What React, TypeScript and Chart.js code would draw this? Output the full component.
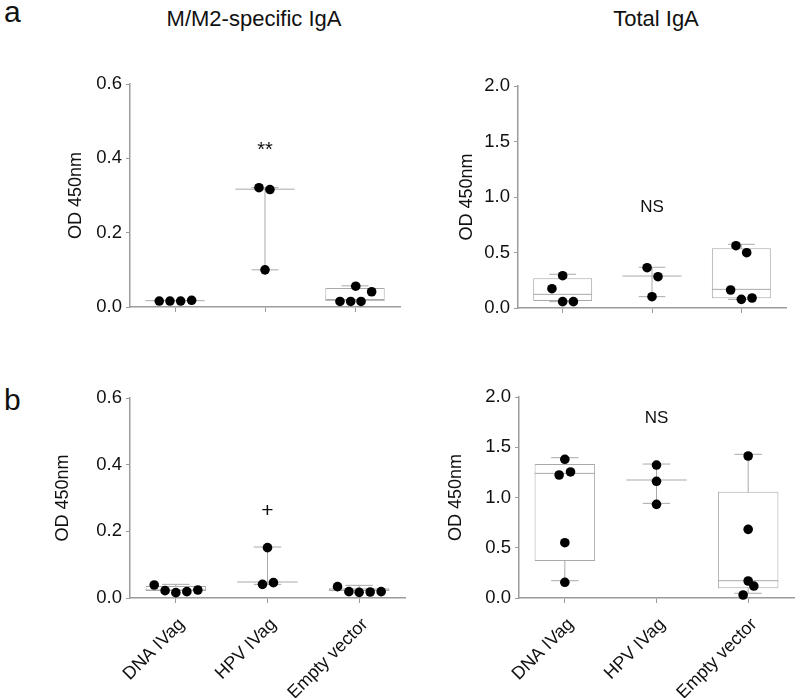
import React, { useEffect, useRef } from 'react';
import { Chart, registerables } from 'chart.js';

Chart.register(...registerables);

const FONT = '"Liberation Sans", Arial, Helvetica, sans-serif';

// ---------- data ----------
const categories = ['DNA IVag', 'HPV IVag', 'Empty vector'];

// Panel a — M/M2-specific IgA
const aSpecValues = [[0.016, 0.016, 0.016, 0.018], [0.321, 0.316, 0.1], [0.015, 0.015, 0.015, 0.056, 0.041]];
const aSpecJitter = [[-0.175, -0.056, 0.063, 0.185], [-0.067, 0.055, 0], [-0.167, -0.048, 0.067, 0.008, 0.185]];
const aSpecMedian = [0.017, 0.317, 0.018];
const aSpecQ1 = [null, null, 0.019];
const aSpecQ3 = [null, null, 0.051];
const aSpecLow = [null, 0.1, null];
const aSpecHigh = [null, 0.321, 0.057];
const aSpecMark = { text: '**', x: 2, y: 0.42 };

// Panel a — Total IgA
const aTotValues = [[0.291, 0.174, 0.057, 0.057], [0.363, 0.282, 0.102], [0.561, 0.498, 0.162, 0.078, 0.09]];
const aTotJitter = [[0, -0.12, 0, 0.12], [-0.055, 0.067, 0], [-0.06, 0.06, -0.12, 0, 0.12]];
const aTotMedian = [0.123, 0.288, 0.168];
const aTotQ1 = [0.063, null, 0.087];
const aTotQ3 = [0.268, null, 0.538];
const aTotLow = [0.057, 0.102, 0.078];
const aTotHigh = [0.304, 0.367, 0.574];
const aTotMark = { text: 'NS', x: 2, y: 0.91 };

// Panel b — M/M2-specific IgA
const bSpecValues = [[0.039, 0.022, 0.016, 0.019, 0.024], [0.041, 0.046, 0.151], [0.034, 0.019, 0.017, 0.018, 0.019]];
const bSpecJitter = [[-0.236, -0.117, 0, 0.12, 0.24], [-0.055, 0.065, 0], [-0.236, -0.112, 0, 0.12, 0.24]];
const bSpecMedian = [0.024, 0.048, 0.024];
const bSpecQ1 = [0.021, null, 0.021];
const bSpecQ3 = [0.036, null, 0.029];
const bSpecLow = [null, 0.041, null];
const bSpecHigh = [0.041, 0.153, 0.038];
const bSpecMark = { text: '+', x: 2, y: 0.26 };

// Panel b — Total IgA
const bTotValues = [[1.38, 1.224, 1.254, 0.55, 0.156], [1.323, 1.161, 0.932], [1.413, 0.683, 0.169, 0.119, 0.03]];
const bTotJitter = [[0, -0.062, 0.062, 0, 0], [0, 0, 0], [0, 0, 0, 0.062, -0.055]];
const bTotMedian = [1.24, 1.174, 0.172];
const bTotQ1 = [0.368, null, 0.096];
const bTotQ3 = [1.333, null, 1.058];
const bTotLow = [0.172, 0.942, 0.047];
const bTotHigh = [1.396, 1.333, 1.43];
const bTotMark = { text: 'NS', x: 2, y: 1.79 };

const specTicks = [0, 0.2, 0.4, 0.6];
const totTicks = [0, 0.5, 1.0, 1.5, 2.0];

// ---------- styling / layout ----------
const LINE_COLOR = '#a9a9a9';
const AXIS_COLOR = '#9c9c9c';
const HALF_BOX = 0.33;
const HALF_CAP = 0.15;

type Num = number | null;
interface PanelData {
  values: number[][];
  jitter: number[][];
  median: number[];
  q1: Num[];
  q3: Num[];
  lo: Num[];
  hi: Num[];
  ticks: number[];
  mark: { text: string; x: number; y: number };
  markSize: number;
  showLabels: boolean;
  frame: { cx: number; cy: number; w: number; h: number; l: number; r: number; t: number; b: number };
}

const panels: PanelData[] = [
  {
    values: aSpecValues, jitter: aSpecJitter, median: aSpecMedian, q1: aSpecQ1, q3: aSpecQ3, lo: aSpecLow, hi: aSpecHigh,
    ticks: specTicks, mark: aSpecMark, markSize: 20, showLabels: false,
    frame: { cx: 61, cy: 50, w: 359, h: 290, l: 130, r: 400, t: 84, b: 307 },
  },
  {
    values: aTotValues, jitter: aTotJitter, median: aTotMedian, q1: aTotQ1, q3: aTotQ3, lo: aTotLow, hi: aTotHigh,
    ticks: totTicks, mark: aTotMark, markSize: 17, showLabels: false,
    frame: { cx: 452, cy: 50, w: 348, h: 290, l: 518, r: 786, t: 86, b: 308 },
  },
  {
    values: bSpecValues, jitter: bSpecJitter, median: bSpecMedian, q1: bSpecQ1, q3: bSpecQ3, lo: bSpecLow, hi: bSpecHigh,
    ticks: specTicks, mark: bSpecMark, markSize: 21, showLabels: true,
    frame: { cx: 48, cy: 360, w: 372, h: 338, l: 130, r: 405, t: 398, b: 598 },
  },
  {
    values: bTotValues, jitter: bTotJitter, median: bTotMedian, q1: bTotQ1, q3: bTotQ3, lo: bTotLow, hi: bTotHigh,
    ticks: totTicks, mark: bTotMark, markSize: 17, showLabels: true,
    frame: { cx: 441, cy: 360, w: 359, h: 338, l: 519, r: 794, t: 397, b: 598 },
  },
];

function buildDatasets(p: PanelData): any[] {
  const points: any[] = [];
  const whiskers: any[] = [];
  const medians: any[] = [];
  const boxes: any[] = [];
  categories.forEach((_, i) => {
    const x = i + 1;
    p.values[i].forEach((v, j) => points.push({ x: x + p.jitter[i][j], y: v }));
    const top = p.hi[i] ?? p.q3[i] ?? p.median[i];
    const bottom = p.lo[i] ?? p.q1[i] ?? p.median[i];
    if (top !== bottom) whiskers.push({ x, y: bottom }, { x, y: top }, { x, y: null });
    if (p.hi[i] != null) whiskers.push({ x: x - HALF_CAP, y: p.hi[i] }, { x: x + HALF_CAP, y: p.hi[i] }, { x, y: null });
    if (p.lo[i] != null) whiskers.push({ x: x - HALF_CAP, y: p.lo[i] }, { x: x + HALF_CAP, y: p.lo[i] }, { x, y: null });
    medians.push({ x: x - HALF_BOX, y: p.median[i] }, { x: x + HALF_BOX, y: p.median[i] }, { x, y: null });
    if (p.q1[i] != null && p.q3[i] != null) boxes.push({ x, y: [p.q1[i], p.q3[i]] });
  });
  return [
    {
      type: 'scatter', data: points, order: 0, clip: false,
      pointRadius: 4.8, pointHoverRadius: 4.8, pointBackgroundColor: '#000', pointBorderColor: '#000', pointBorderWidth: 0,
    },
    {
      type: 'line', data: medians, order: 1, borderColor: LINE_COLOR, borderWidth: 1, pointRadius: 0, spanGaps: false, fill: false,
    },
    {
      type: 'bar', data: boxes, order: 2, backgroundColor: '#ffffff', borderColor: LINE_COLOR, borderWidth: 1,
      borderSkipped: false, categoryPercentage: HALF_BOX * 2, barPercentage: 1,
    },
    {
      type: 'line', data: whiskers, order: 3, borderColor: LINE_COLOR, borderWidth: 1, pointRadius: 0, spanGaps: false, fill: false,
    },
  ];
}

const markPlugin = {
  id: 'panelMark',
  afterDatasetsDraw(chart: any, _args: any, opts: any) {
    const { ctx, scales } = chart;
    if (!opts || !opts.mark) return;
    ctx.save();
    ctx.font = `${opts.size}px ${FONT}`;
    ctx.fillStyle = '#111';
    ctx.textAlign = 'center';
    ctx.textBaseline = 'middle';
    ctx.fillText(opts.mark.text, scales.x.getPixelForValue(opts.mark.x), scales.y.getPixelForValue(opts.mark.y));
    ctx.restore();
  },
};

function Panel({ p }: { p: PanelData }) {
  const ref = useRef<HTMLCanvasElement>(null);
  useEffect(() => {
    const f = p.frame;
    const yWidth = f.l - f.cx;
    const xHeight = f.cy + f.h - f.b;
    const chart = new Chart(ref.current as HTMLCanvasElement, {
      type: 'scatter',
      data: { datasets: buildDatasets(p) },
      plugins: [markPlugin],
      options: {
        responsive: false,
        animation: false,
        events: [],
        layout: { padding: { left: 0, top: f.t - f.cy, right: f.cx + f.w - f.r, bottom: 0 } },
        plugins: {
          legend: { display: false },
          tooltip: { enabled: false },
          panelMark: { mark: p.mark, size: p.markSize },
        } as any,
        scales: {
          x: {
            type: 'linear',
            min: 0.5,
            max: 3.5,
            offset: false,
            afterBuildTicks: (scale: any) => {
              scale.ticks = categories.map((_, i) => ({ value: i + 1 }));
            },
            afterFit: (scale: any) => {
              scale.height = xHeight;
            },
            grid: { offset: false, drawOnChartArea: false, drawTicks: true, tickLength: 5, color: AXIS_COLOR, lineWidth: 1 },
            border: { display: true, color: AXIS_COLOR, width: 1.5 },
            ticks: {
              display: p.showLabels,
              autoSkip: false,
              minRotation: 45,
              maxRotation: 45,
              padding: 11,
              labelOffset: 6,
              color: '#111',
              font: { family: FONT, size: 18 },
              callback: (v: any) => categories[Math.round(Number(v)) - 1] ?? '',
            },
          },
          y: {
            type: 'linear',
            min: p.ticks[0],
            max: p.ticks[p.ticks.length - 1],
            afterBuildTicks: (scale: any) => {
              scale.ticks = p.ticks.map((v) => ({ value: v }));
            },
            afterFit: (scale: any) => {
              scale.width = yWidth;
            },
            grid: { drawOnChartArea: false, drawTicks: true, tickLength: 4, color: AXIS_COLOR, lineWidth: 1 },
            border: { display: true, color: AXIS_COLOR, width: 1.5 },
            ticks: {
              padding: 4,
              color: '#111',
              font: { family: FONT, size: 18.5 },
              callback: (v: any) => Number(v).toFixed(1),
            },
            title: {
              display: true,
              text: 'OD 450nm',
              color: '#111',
              font: { family: FONT, size: 18 },
              padding: { top: 4, bottom: 4 },
            },
          },
        },
      } as any,
    });
    return () => chart.destroy();
  }, [p]);
  const f = p.frame;
  return (
    <canvas
      ref={ref}
      width={f.w}
      height={f.h}
      style={{ position: 'absolute', left: f.cx, top: f.cy, width: f.w, height: f.h }}
    />
  );
}

const headingStyle: React.CSSProperties = {
  position: 'absolute',
  fontFamily: FONT,
  fontSize: 22,
  lineHeight: '22px',
  color: '#111',
  textAlign: 'center',
  width: 300,
  whiteSpace: 'nowrap',
};

const letterStyle: React.CSSProperties = {
  position: 'absolute',
  fontFamily: FONT,
  fontSize: 30,
  lineHeight: '30px',
  color: '#111',
};

export default function App() {
  return (
    <div style={{ position: 'absolute', left: 0, top: 0, width: 800, height: 698, background: '#fff', overflow: 'hidden' }}>
      <div style={{ ...letterStyle, left: 4, top: -3 }}>a</div>
      <div style={{ ...letterStyle, left: 4, top: 385 }}>b</div>
      <div style={{ ...headingStyle, left: 254 - 150, top: 8 }}>M/M2-specific IgA</div>
      <div style={{ ...headingStyle, left: 656 - 150, top: 8 }}>Total IgA</div>
      {panels.map((p, i) => (
        <Panel key={i} p={p} />
      ))}
    </div>
  );
}
